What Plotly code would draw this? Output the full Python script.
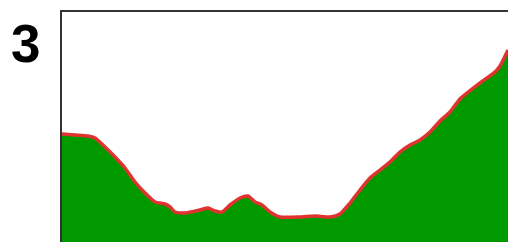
import plotly.graph_objects as go

# Distance along route (arbitrary units) and elevation values
distance = [0, 13, 26, 33, 43, 53, 63, 73, 83, 93, 103, 108, 113, 123, 138, 146, 153, 160,
            168, 178, 186, 193, 200, 208, 218, 238, 253, 268, 278, 288, 298, 308, 318, 328,
            338, 348, 358, 368, 378, 388, 398, 418, 433, 438, 446]
elevation = [108, 107, 106, 104, 95, 85, 74, 60, 49, 40, 38, 35, 30, 29, 32, 34, 31, 30,
             37, 44, 46, 40, 37, 30, 25, 25, 26, 25, 28, 39, 52, 64, 72, 80, 90, 97, 102,
             110, 121, 130, 143, 159, 170, 176, 192]
label = "3"

fig = go.Figure()
fig.add_trace(go.Scatter(
    x=distance, y=elevation, mode="lines", fill="tozeroy",
    fillcolor="#009900", line=dict(color="#e0332f", width=3.5, shape="spline", smoothing=0.6),
    hoverinfo="skip", showlegend=False,
))

fig.update_layout(
    width=508, height=242,
    margin=dict(l=62, r=0, t=12, b=0),
    paper_bgcolor="white", plot_bgcolor="white",
    xaxis=dict(range=[0, 446], showgrid=False, zeroline=False, showticklabels=False,
               ticks="", showline=True, linecolor="#333333", linewidth=2, side="top"),
    yaxis=dict(range=[0, 230], showgrid=False, zeroline=False, showticklabels=False,
               ticks="", showline=True, linecolor="#333333", linewidth=2),
    annotations=[dict(text=f"<b>{label}</b>", xref="paper", yref="paper",
                      x=-62/446 + 26/446, y=1 + (12 - 43)/230, xanchor="center", yanchor="middle",
                      showarrow=False,
                      font=dict(family="Liberation Sans, Arial", size=53, color="black"))],
)

fig.write_html("out.html", config={"displayModeBar": False},
               post_script="document.body.style.margin='0';document.body.style.padding='0';document.body.style.overflow='hidden';")
